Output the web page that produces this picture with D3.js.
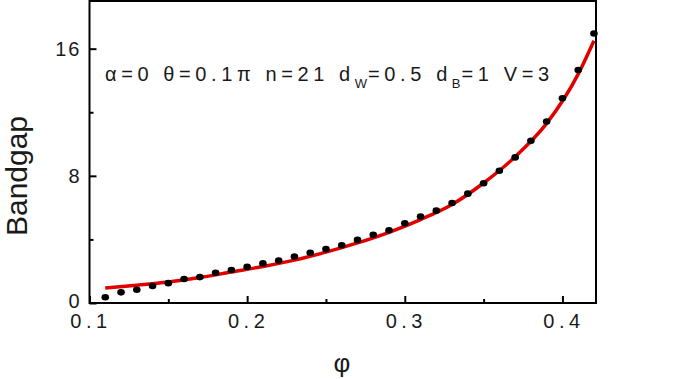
<!DOCTYPE html>
<html>
<head>
<meta charset="utf-8">
<script src="https://cdn.jsdelivr.net/npm/d3@7"></script>
<style>
  body { margin: 0; background: #fff; }
  text { font-family: Arial, "Liberation Sans", sans-serif; }
</style>
</head>
<body>
<div class="chart"></div>
<script>
// data
const phi = [0.11, 0.12, 0.13, 0.14, 0.15, 0.16, 0.17, 0.18, 0.19, 0.20,
             0.21, 0.22, 0.23, 0.24, 0.25, 0.26, 0.27, 0.28, 0.29, 0.30,
             0.31, 0.32, 0.33, 0.34, 0.35, 0.36, 0.37, 0.38, 0.39, 0.40,
             0.41, 0.42];
const bandgap = [0.36, 0.67, 0.83, 1.07, 1.25, 1.51, 1.63, 1.90, 2.08, 2.27,
                 2.49, 2.67, 2.92, 3.16, 3.39, 3.63, 3.97, 4.29, 4.58, 5.02,
                 5.44, 5.81, 6.29, 6.88, 7.53, 8.32, 9.16, 10.2, 11.42, 12.88,
                 14.66, 16.96];

// red fitted curve
const fitPhi = [0.11, 0.13, 0.15, 0.17, 0.19, 0.21, 0.23, 0.25, 0.27, 0.29,
                0.31, 0.33, 0.35, 0.37, 0.39, 0.41, 0.42];
const fitVal = [0.95, 1.12, 1.32, 1.60, 1.95, 2.30, 2.70, 3.20, 3.78, 4.45,
                5.25, 6.20, 7.55, 9.2, 11.3, 14.4, 16.5];

const xMajor = [0.1, 0.2, 0.3, 0.4];
const xMinor = [0.15, 0.25, 0.35];
const yMajor = [0, 8, 16];
const yMinor = [4, 12];

// Mesures
const size = { width: 675, height: 379 };
const plot = { left: 89.5, right: 596, top: 1, bottom: 303 };

const svg = d3.select(".chart")
              .append("svg")
              .attr("width", size.width)
              .attr("height", size.height);

const x = d3.scaleLinear()
            .domain([0.1, 0.4213])
            .range([plot.left, plot.right]);
const y = d3.scaleLinear()
            .domain([0, 19])
            .range([plot.bottom, plot.top]);

// axes
const xAxis = svg.append("g")
    .attr("transform", `translate(0, ${plot.bottom})`)
    .call(d3.axisBottom(x).tickValues(xMajor).tickSize(-7).tickPadding(11)
           .tickFormat(d3.format(".1f")));
svg.append("g")
    .attr("transform", `translate(0, ${plot.bottom})`)
    .call(d3.axisBottom(x).tickValues(xMinor).tickSize(-4).tickFormat(""));

const yAxis = svg.append("g")
    .attr("transform", `translate(${plot.left}, 0)`)
    .call(d3.axisLeft(y).tickValues(yMajor).tickSize(-7).tickPadding(9));
svg.append("g")
    .attr("transform", `translate(${plot.left}, 0)`)
    .call(d3.axisLeft(y).tickValues(yMinor).tickSize(-4).tickFormat(""));

svg.selectAll(".domain").remove();
svg.selectAll(".tick line").attr("stroke", "#000").attr("stroke-width", 2);
svg.selectAll(".tick text")
    .attr("font-size", 20)
    .attr("fill", "#1a1a1a");
xAxis.selectAll(".tick text")
    .style("letter-spacing", "4.5px")
    .attr("dx", 1);
yAxis.selectAll(".tick text")
    .style("letter-spacing", "2px")
    .attr("dx", 1)
    .attr("dy", (d) => d === 0 ? "0.22em" : "0.32em");

// frame
svg.append("rect")
    .attr("x", plot.left)
    .attr("y", plot.top)
    .attr("width", plot.right - plot.left)
    .attr("height", plot.bottom - plot.top)
    .attr("fill", "none")
    .attr("stroke", "#000")
    .attr("stroke-width", 2);

// fitted line
const line = d3.line()
    .x((d, i) => x(fitPhi[i]))
    .y((d) => y(d))
    .curve(d3.curveMonotoneX);

svg.append("path")
    .datum(fitVal)
    .attr("d", line)
    .attr("fill", "none")
    .attr("stroke", "#e00000")
    .attr("stroke-width", 3.5);

// dots
svg.append("g")
    .selectAll("ellipse")
    .data(bandgap)
    .enter()
    .append("ellipse")
    .attr("cx", (d, i) => x(phi[i]))
    .attr("cy", (d) => y(d))
    .attr("rx", 3.8)
    .attr("ry", 3.3)
    .attr("fill", "#000");

// parameter label
const note = svg.append("text")
    .attr("x", 105)
    .attr("y", 81)
    .attr("font-size", 20)
    .attr("fill", "#1a1a1a")
    .style("letter-spacing", "4.6px")
    .style("white-space", "pre");
note.append("tspan").text("α=0 θ=0.1π n=21 d");
note.append("tspan").attr("font-size", 13).attr("dy", 7).style("letter-spacing", "1px").text("W");
note.append("tspan").attr("dy", -7).text("=0.5 d");
note.append("tspan").attr("font-size", 13).attr("dy", 7).style("letter-spacing", "1px").text("B");
note.append("tspan").attr("dy", -7).text("=1 V=3");

// axis titles
svg.append("text")
    .attr("transform", "translate(27, 176) rotate(-90)")
    .attr("text-anchor", "middle")
    .attr("font-size", 30)
    .attr("fill", "#1a1a1a")
    .text("Bandgap");

svg.append("text")
    .attr("x", 342)
    .attr("y", 372)
    .attr("text-anchor", "middle")
    .attr("font-size", 26)
    .attr("fill", "#1a1a1a")
    .text("φ");
</script>
</body>
</html>
